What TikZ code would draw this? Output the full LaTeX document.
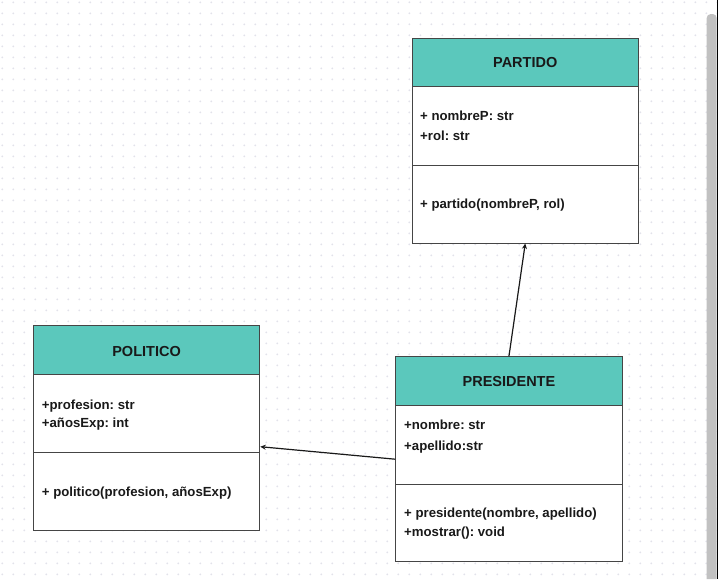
\documentclass[tikz,border=0pt]{standalone}
\usepackage{fontspec}
\setmainfont{Liberation Sans}
\usetikzlibrary{arrows.meta}
\definecolor{headteal}{HTML}{5BC8BC}
\definecolor{boxgray}{HTML}{454545}
\definecolor{dotgray}{HTML}{E2E2EA}
\definecolor{scrollgray}{HTML}{C1C1C1}
\frenchspacing
\begin{document}
\begin{tikzpicture}[x=1pt,y=-1pt,
  classbox/.style={draw=boxgray,fill=white,line width=0.9pt,minimum width=226.5pt,minimum height=205pt,inner sep=0pt},
  classtitle/.style={inner sep=0pt,text=black!90,font=\fontsize{14.5}{17}\selectfont\bfseries},
  member/.style={anchor=mid west,inner sep=0pt,text=black!90,font=\fontsize{13.2}{15}\selectfont\bfseries},
  link/.style={line width=1.2pt,black!90,-{Stealth[length=5.5pt,width=5pt]}}]
\useasboundingbox (0,0) rectangle (718,579);
\fill[white] (0,0) rectangle (718,579);
\foreach \i in {0,...,65}
  \foreach \j in {0,...,52}
    \fill[dotgray] (2.3+11*\i,2.3+11*\j) circle (1);
\fill[scrollgray,rounded corners=4pt] (706.7,579) -- (706.7,14) -- (716.7,14) -- (716.7,579);
\draw[black,line width=1.3pt] (717.4,0) -- (717.4,579);
\node[classbox] (partido) at (525.25,140.5) {};
\draw[boxgray,line width=0.9pt,fill=headteal] (412,38) rectangle (638.5,86.5);
\draw[boxgray,line width=0.9pt] (412,165) -- (638.5,165);
\node[classtitle] (partidoName) at (525.25,62.5) {PARTIDO};
\node[member] (partidoAttrA) at (420,118.2) {+ nombreP: str};
\node[member] (partidoAttrB) at (420,138.2) {+rol: str};
\node[member] (partidoOpA) at (420,205.5) {+ partido(nombreP, rol)};
\node[classbox] (politico) at (146.55,428.2) {};
\draw[boxgray,line width=0.9pt,fill=headteal] (33.3,325.7) rectangle (259.8,374.2);
\draw[boxgray,line width=0.9pt] (33.3,452.7) -- (259.8,452.7);
\node[classtitle] (politicoName) at (146.55,351.2) {POLITICO};
\node[member] (politicoAttrA) at (41.7,406.5) {+profesion: str};
\node[member] (politicoAttrB) at (41.7,424.5) {+añosExp: int};
\node[member] (politicoOpA) at (41.7,494.2) {+ politico(profesion, añosExp)};
\node[classbox] (presidente) at (508.95,459.2) {};
\draw[boxgray,line width=0.9pt,fill=headteal] (395.7,356.7) rectangle (622.2,405.2);
\draw[boxgray,line width=0.9pt] (395.7,484) -- (622.2,484);
\node[classtitle] (presidenteName) at (508.95,381.2) {PRESIDENTE};
\node[member] (presidenteAttrA) at (404,427.2) {+nombre: str};
\node[member] (presidenteAttrB) at (404,447.5) {+apellido:str};
\node[member] (presidenteOpA) at (404,514.8) {+ presidente(nombre, apellido)};
\node[member] (presidenteOpB) at (404,534.2) {+mostrar(): void};
\draw[link] (presidente.north) -- (partido.south);
\draw[link] (presidente.west) -- ([yshift=-18.5pt]politico.east);
\end{tikzpicture}
\end{document}
